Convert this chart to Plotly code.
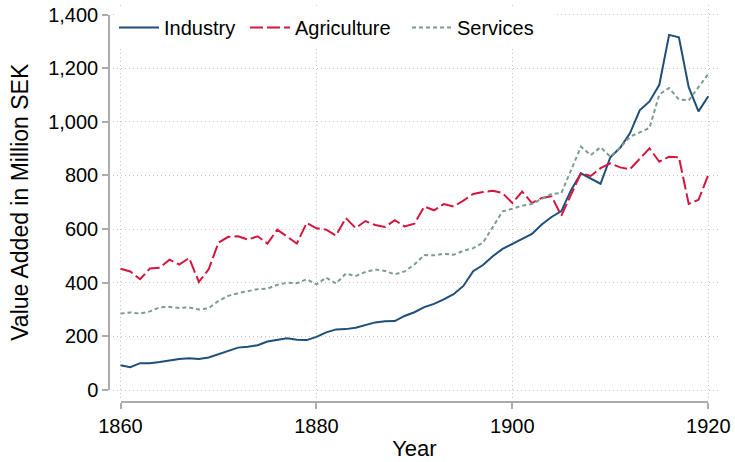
import plotly.graph_objects as go

years = list(range(1860, 1921))

industry = [92, 85, 100, 100, 104, 110, 116, 118, 116, 121,
            133, 144, 158, 161, 167, 181, 187, 193, 187, 186,
            198, 215, 226, 227, 232, 242, 252, 256, 257, 276,
            290, 309, 321, 338, 357, 388, 443, 466, 499, 526,
            544, 564, 582, 617, 645, 667, 746, 808, 790, 769,
            868, 903, 957, 1043, 1076, 1138, 1324, 1315, 1129, 1039,
            1095]

agriculture = [452, 442, 413, 453, 456, 486, 468, 492, 403, 450,
               549, 571, 573, 561, 573, 546, 598, 573, 546, 623,
               603, 598, 576, 641, 604, 630, 615, 608, 633, 610,
               620, 684, 670, 693, 684, 706, 731, 738, 743, 734,
               697, 740, 697, 716, 722, 650, 728, 808, 798, 827,
               845, 830, 823, 864, 901, 851, 870, 868, 694, 709,
               802]

services = [285, 289, 285, 293, 308, 310, 306, 308, 300, 305,
            332, 351, 361, 369, 376, 378, 392, 400, 398, 413,
            394, 419, 397, 434, 425, 440, 449, 444, 431, 442,
            468, 503, 502, 508, 504, 519, 529, 549, 610, 666,
            676, 687, 694, 712, 731, 734, 820, 907, 876, 905,
            870, 903, 944, 960, 977, 1102, 1126, 1083, 1080, 1129,
            1179]

x_ticks = [1860, 1880, 1900, 1920]
y_ticks = [0, 200, 400, 600, 800, 1000, 1200, 1400]

# page geometry (pixels)
W, H = 735, 462
ML, MR, MT, MB = 100, 17, 5, 56
PW, PH = W - ML - MR, H - MT - MB

def px(x):
    return (x - ML) / PW

def py(y):
    return (H - MB - y) / PH

# pixel spots of the plot region and of the tick range
reg_l, reg_r, reg_t, reg_b = 113, 718, 5, 398
x0_px, x1_px = 120.5, 708.3
y0_px, y1_px = 390, 14.5

xs = (x_ticks[-1] - x_ticks[0]) / (x1_px - x0_px)
ys = (y_ticks[-1] - y_ticks[0]) / (y0_px - y1_px)
grid_xrange = [x_ticks[0] - (x0_px - reg_l) * xs, x_ticks[-1] + (reg_r - x1_px) * xs]
grid_yrange = [y_ticks[0] - (reg_b - y0_px) * ys, y_ticks[-1] + (y1_px - reg_t) * ys]

FONT = 'Liberation Sans, Arial, sans-serif'
AXIS_GRAY = '#ababab'
GRID_GRAY = '#c8c8c8'

series = [
    ('Industry', industry, dict(color='#1f4e79', width=2), 'legend', 114, 92),
    ('Agriculture', agriculture, dict(color='#d2163f', width=2, dash='13px,4px'), 'legend2', 245, 117),
    ('Services', services, dict(color='#7d9c8e', width=2, dash='4px,3px'), 'legend3', 407, 92),
]

fig = go.Figure()

# empty trace so the framing axes (x, y) get drawn
fig.add_trace(go.Scatter(x=[], y=[], mode='lines', showlegend=False,
                         hoverinfo='skip', xaxis='x', yaxis='y'))

legends = {}
for name, vals, line, leg, lx, ew in series:
    fig.add_trace(go.Scatter(x=years, y=vals, mode='lines', name=name, line=line,
                             xaxis='x2', yaxis='y2', legend=leg))
    legends[leg] = dict(orientation='h', x=px(lx), y=py(8), xanchor='left', yanchor='top',
                        bgcolor='white', font=dict(size=20), itemwidth=40,
                        entrywidth=ew, entrywidthmode='pixels')

grid = dict(showgrid=True, gridcolor=GRID_GRAY, griddash='1px,3px', gridwidth=1,
            showticklabels=False, ticks='', showline=False, zeroline=False,
            automargin=False)
frame = dict(showline=True, linecolor=AXIS_GRAY, linewidth=1.5,
             ticks='outside', ticklen=6, tickcolor=AXIS_GRAY, tickwidth=1.5,
             showgrid=False, zeroline=False, automargin=False, anchor='free')

fig.update_layout(
    width=W, height=H,
    margin=dict(l=ML, r=MR, t=MT, b=MB),
    paper_bgcolor='white',
    plot_bgcolor='white',
    font=dict(family=FONT, size=20, color='black'),
    showlegend=True,
    **legends,
    # framing axes: line, ticks and labels over the tick range only
    xaxis=dict(domain=[px(x0_px), px(x1_px)], range=[x_ticks[0], x_ticks[-1]],
               position=py(402), tickvals=x_ticks,
               title=dict(text='Year', font=dict(size=22), standoff=4), **frame),
    yaxis=dict(domain=[py(y0_px), py(y1_px)], range=[y_ticks[0], y_ticks[-1]],
               position=px(109), tickvals=y_ticks, tickformat=',',
               title=dict(text='Value Added in Million SEK', font=dict(size=23), standoff=12),
               **frame),
    # data axes with the dotted grid
    xaxis2=dict(domain=[px(reg_l), px(reg_r)], range=grid_xrange, anchor='y2',
                tickvals=x_ticks, **grid),
    yaxis2=dict(domain=[py(reg_b), py(reg_t)], range=grid_yrange, anchor='x2',
                tickvals=y_ticks, **grid),
)

fig.write_html("out.html", config={'displayModeBar': False},
               post_script="document.body.style.margin = '0';")
